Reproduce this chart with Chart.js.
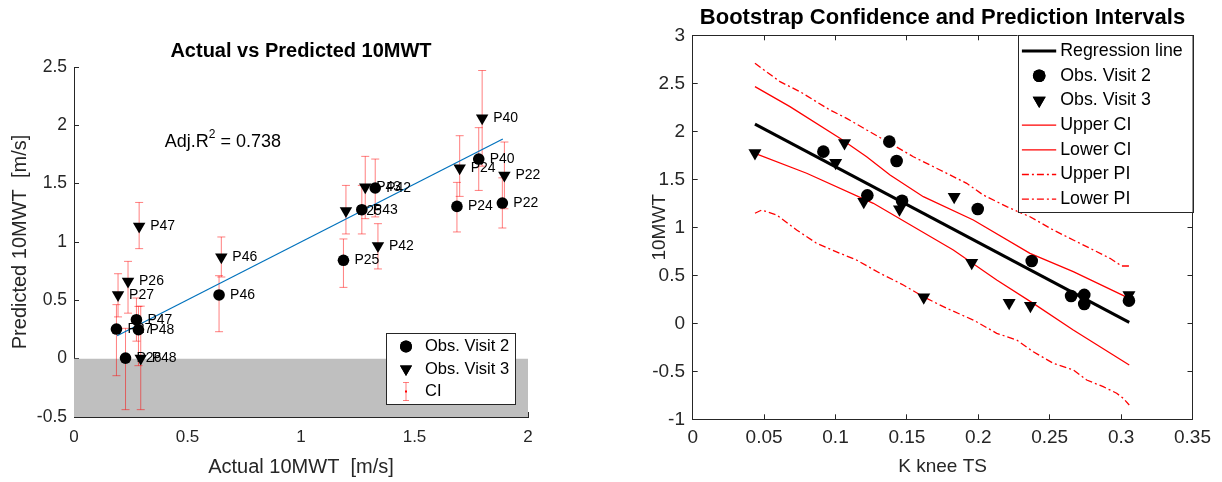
<!DOCTYPE html>
<html>
<head>
<meta charset="utf-8">
<script src="https://cdn.jsdelivr.net/npm/chart.js@4.4.1/dist/chart.umd.min.js"></script>
<style>
  html, body { margin: 0; padding: 0; background: #fff; overflow: hidden; width: 1222px; height: 482px; }
  .box { position: absolute; top: 0; height: 482px; }
  #left { left: 0; width: 602px; }
  #right { left: 640px; width: 605px; }
</style>
</head>
<body>
<div class="box" id="left"><canvas id="actualChart" width="602" height="482"></canvas></div>
<div class="box" id="right"><canvas id="bootChart" width="605" height="482"></canvas></div>
<script>
// ---------- left panel: actual vs predicted ----------
const namesV2 = ['P27', 'P26', 'P47', 'P48', 'P46', 'P25', 'P43', 'P42', 'P24', 'P40', 'P22'];
const actualV2 = [0.187, 0.227, 0.275, 0.284, 0.639, 1.187, 1.268, 1.327, 1.687, 1.783, 1.887];
const predV2 = [0.254, 0.005, 0.334, 0.248, 0.546, 0.843, 1.277, 1.463, 1.305, 1.711, 1.334];
const ciLowV2 = [-0.146, -0.437, 0.15, -0.06, 0.231, 0.611, 1.069, 1.215, 1.086, 1.442, 1.12];
const ciHighV2 = [0.463, 0.26, 0.52, 0.448, 0.711, 1.026, 1.485, 1.711, 1.511, 1.98, 1.55];

const namesV3 = ['P47', 'P26', 'P27', 'P48', 'P46', 'P25', 'P43', 'P42', 'P24', 'P40', 'P22'];
const actualV3 = [0.287, 0.238, 0.194, 0.294, 0.649, 1.198, 1.283, 1.339, 1.699, 1.798, 1.896];
const predV3 = [1.134, 0.663, 0.548, 0.003, 0.871, 1.268, 1.47, 0.968, 1.634, 2.062, 1.571];
const ciLowV3 = [0.943, 0.39, 0.358, -0.437, 0.70, 1.069, 1.20, 0.769, 1.391, 1.65, 1.285];
const ciHighV3 = [1.339, 0.834, 0.728, 0.45, 1.043, 1.485, 1.734, 1.157, 1.911, 2.47, 1.857];

const fitX = [0.19, 1.889];
const fitY = [0.197, 1.883];
const shadeX = [0, 2];
const shadeY = [0, 0];
const xTicksL = [0, 0.5, 1, 1.5, 2];
const yTicksL = [-0.5, 0, 0.5, 1, 1.5, 2, 2.5];

// ---------- right panel: bootstrap intervals ----------
const kneeV2 = [0.0915, 0.1223, 0.1377, 0.1428, 0.1466, 0.1996, 0.2374, 0.2650, 0.2742, 0.2742, 0.3055];
const walkV2 = [1.788, 1.333, 1.892, 1.691, 1.277, 1.19, 0.649, 0.284, 0.296, 0.201, 0.236];
const kneeV3 = [0.0436, 0.1001, 0.1063, 0.1198, 0.1448, 0.1618, 0.1831, 0.1954, 0.2216, 0.2365, 0.3055];
const walkV3 = [1.774, 1.673, 1.878, 1.267, 1.187, 0.272, 1.319, 0.63, 0.214, 0.182, 0.295];

const regX = [0.0436, 0.3057];
const regY = [2.075, 0.01];
const upperCiX = [0.0436, 0.0681, 0.1031, 0.1218, 0.1382, 0.1615, 0.1965, 0.2362, 0.2665, 0.3057];
const upperCiY = [2.465, 2.257, 1.927, 1.735, 1.545, 1.319, 1.076, 0.729, 0.538, 0.26];
const lowerCiX = [0.0436, 0.0798, 0.1265, 0.1825, 0.2129, 0.2385, 0.2665, 0.3057];
const lowerCiY = [1.771, 1.563, 1.25, 0.764, 0.451, 0.208, -0.07, -0.434];
const upperPiX = [0.0436, 0.0611, 0.0751, 0.0961, 0.1078, 0.1218, 0.1382, 0.1545, 0.1732, 0.1919,
  0.2035, 0.2199, 0.2362, 0.2525, 0.2665, 0.2805, 0.2922, 0.3004, 0.3057];
const upperPiY = [2.708, 2.517, 2.413, 2.222, 2.135, 2.014, 1.875, 1.735, 1.597, 1.458,
  1.336, 1.215, 1.11, 0.972, 0.868, 0.764, 0.677, 0.597, 0.597];
const lowerPiX = [0.0436, 0.0483, 0.0588, 0.0728, 0.0868, 0.1031, 0.1148, 0.1312, 0.1475, 0.1615,
  0.1779, 0.1965, 0.2129, 0.2269, 0.2385, 0.2525, 0.2665, 0.2759, 0.2875, 0.2969, 0.3015, 0.3057];
const lowerPiY = [1.146, 1.18, 1.128, 0.972, 0.833, 0.729, 0.659, 0.521, 0.399, 0.277,
  0.156, 0.034, -0.104, -0.174, -0.296, -0.417, -0.486, -0.591, -0.66, -0.729, -0.781, -0.851];
const xTicksR = [0, 0.05, 0.1, 0.15, 0.2, 0.25, 0.3, 0.35];
const yTicksR = [-1, -0.5, 0, 0.5, 1, 1.5, 2, 2.5, 3];

// ---------- helpers ----------
const AXIS = '#262626';
const CI_RED = 'rgba(255,0,0,0.5)';
Chart.defaults.font.family = "'Liberation Sans', Arial, Helvetica, sans-serif";
Chart.defaults.color = AXIS;

const fmt = v => String(Math.round(v * 1000) / 1000);
const pts = (xs, ys) => xs.map((x, i) => ({ x: x, y: ys[i] }));
const fixTicks = list => (s => { s.ticks = list.map(v => ({ value: v })); });

function axis(min, max, list, pos, size, fontSize, pad, title) {
  const horiz = pos === 'top' || pos === 'bottom';
  return {
    type: 'linear', position: pos, min: min, max: max,
    afterBuildTicks: fixTicks(list),
    afterFit: s => { if (horiz) s.height = size; else s.width = size; },
    ticks: { display: !!fontSize, autoSkip: false, maxRotation: 0, callback: fmt,
      font: { size: fontSize || 10 }, color: AXIS, padding: pad || 0 },
    grid: { drawOnChartArea: false, tickLength: -5, color: AXIS },
    border: { color: AXIS, width: 1 },
    title: title || { display: false }
  };
}

// empty spacer axis so the title is centred over the axes box
function spacer(size) {
  return {
    type: 'linear', position: 'right',
    afterFit: s => { s.width = size; },
    ticks: { display: false }, grid: { display: false }, border: { display: false }
  };
}

function drawMark(ctx, kind, x, y, r) {
  ctx.fillStyle = '#000';
  if (kind === 'circle') {
    Chart.helpers.drawPoint(ctx, { pointStyle: 'circle', radius: r, borderWidth: 0 }, x, y);
  } else {
    Chart.helpers.drawPoint(ctx, { pointStyle: 'triangle', radius: r, rotation: 180, borderWidth: 0 }, x, y);
  }
  ctx.fill();
}

// text next to markers (left panel)
function labelPlugin() {
  return {
    id: 'markerLabels',
    afterDatasetsDraw(chart) {
      const { ctx, scales: { x, y } } = chart;
      ctx.save();
      ctx.font = "14px 'Liberation Sans', Arial, sans-serif";
      ctx.fillStyle = '#000';
      ctx.textBaseline = 'middle';
      const put = (xs, ys, names) => names.forEach((n, i) =>
        ctx.fillText(n, x.getPixelForValue(xs[i]) + 11, y.getPixelForValue(ys[i])));
      put(actualV2, predV2, namesV2);
      put(actualV3, predV3, namesV3);
      // Adj. R^2 annotation
      const ax = x.getPixelForValue(0.40), ay = y.getPixelForValue(1.86);
      ctx.font = "18px 'Liberation Sans', Arial, sans-serif";
      ctx.fillText('Adj.R', ax, ay);
      let w = ctx.measureText('Adj.R').width;
      ctx.font = "12px 'Liberation Sans', Arial, sans-serif";
      ctx.fillText('2', ax + w, ay - 7);
      w += ctx.measureText('2').width;
      ctx.font = "18px 'Liberation Sans', Arial, sans-serif";
      ctx.fillText(' = 0.738', ax + w, ay);
      ctx.restore();
    }
  };
}

// boxed legend drawn inside the axes
function legendPlugin(cfg) {
  return {
    id: 'boxLegend',
    afterDraw(chart) {
      const { ctx, chartArea: a } = chart;
      const bx = a.right - cfg.inset - cfg.w;
      const by = cfg.anchor === 'top' ? a.top + cfg.inset : a.bottom - cfg.inset - cfg.h;
      ctx.save();
      ctx.fillStyle = '#fff';
      ctx.fillRect(bx, by, cfg.w, cfg.h);
      ctx.strokeStyle = AXIS;
      ctx.lineWidth = 1;
      ctx.strokeRect(Math.round(bx) + 0.5, Math.round(by) + 0.5, cfg.w, cfg.h);
      ctx.font = cfg.fontSize + "px 'Liberation Sans', Arial, sans-serif";
      ctx.textBaseline = 'middle';
      cfg.items.forEach((it, i) => {
        const cy = by + cfg.first + i * cfg.step;
        const mx = bx + cfg.markX;
        if (it.kind === 'line') {
          ctx.strokeStyle = it.color;
          ctx.lineWidth = it.width;
          ctx.setLineDash(it.dash || []);
          ctx.beginPath();
          ctx.moveTo(bx + cfg.lineFrom, cy);
          ctx.lineTo(bx + cfg.lineTo, cy);
          ctx.stroke();
          ctx.setLineDash([]);
        } else if (it.kind === 'errorbar') {
          ctx.strokeStyle = CI_RED;
          ctx.lineWidth = 1;
          ctx.beginPath();
          ctx.moveTo(mx, cy - 9); ctx.lineTo(mx, cy + 9);
          ctx.moveTo(mx - 3, cy - 9); ctx.lineTo(mx + 3, cy - 9);
          ctx.moveTo(mx - 3, cy + 9); ctx.lineTo(mx + 3, cy + 9);
          ctx.stroke();
          ctx.fillStyle = 'red';
          ctx.fillRect(mx - 1, cy - 1, 2, 2);
        } else {
          drawMark(ctx, it.kind, mx, cy, it.r);
        }
        ctx.fillStyle = '#000';
        ctx.fillText(it.label, bx + cfg.textX, cy);
      });
      ctx.restore();
    }
  };
}

// ---------- left chart ----------
const errorSets = [];
[[actualV2, ciLowV2, ciHighV2], [actualV3, ciLowV3, ciHighV3]].forEach(([xs, lo, hi]) => {
  xs.forEach((xv, i) => errorSets.push({
    type: 'scatter', showLine: true, order: 5,
    data: [{ x: xv, y: lo[i] }, { x: xv, y: hi[i] }],
    borderColor: CI_RED, borderWidth: 1,
    pointStyle: 'line', pointRadius: 4, pointBorderColor: CI_RED, pointBorderWidth: 1
  }));
});

new Chart(document.getElementById('actualChart'), {
  type: 'scatter',
  data: {
    datasets: [
      { data: pts(actualV2, predV2), order: 1, pointStyle: 'circle', pointRadius: 5.8,
        backgroundColor: '#000', borderWidth: 0 },
      { data: pts(actualV3, predV3), order: 1, pointStyle: 'triangle', rotation: 180, pointRadius: 7.2,
        backgroundColor: '#000', borderWidth: 0 },
      { data: pts(fitX, fitY), order: 3, showLine: true, borderColor: '#0072BD', borderWidth: 1.2, pointRadius: 0 },
      ...errorSets,
      { data: pts(shadeX, shadeY), order: 10, showLine: true, borderWidth: 0, pointRadius: 0,
        fill: 'start', backgroundColor: '#bfbfbf' }
    ]
  },
  options: {
    responsive: false, animation: false, events: [],
    layout: { padding: 0 },
    plugins: {
      legend: { display: false }, tooltip: { enabled: false },
      title: { display: true, text: 'Actual vs Predicted 10MWT', color: '#000',
        font: { size: 20, weight: 'bold' }, padding: { top: 39, bottom: 4 } }
    },
    scales: {
      x: axis(0, 2, xTicksL, 'bottom', 65, 17, 14.8,
        { display: true, text: 'Actual 10MWT  [m/s]', font: { size: 20 }, color: AXIS, padding: { top: 0, bottom: 3 } }),
      y: axis(-0.5, 2.5, yTicksL, 'left', 74, 17.5, 12,
        { display: true, text: 'Predicted 10MWT  [m/s]', font: { size: 20 }, color: AXIS, padding: { top: 8, bottom: 0 } }),
      pad: spacer(74)
    }
  },
  plugins: [labelPlugin(), legendPlugin({
    anchor: 'bottom', inset: 13, w: 129, h: 71, first: 13.5, step: 22.5,
    markX: 20, textX: 39, fontSize: 16.5,
    items: [
      { kind: 'circle', r: 6, label: 'Obs. Visit 2' },
      { kind: 'triangle', r: 7, label: 'Obs. Visit 3' },
      { kind: 'errorbar', label: 'CI' }
    ]
  })]
});

// ---------- right chart ----------
const redLine = (xs, ys, dash) => ({
  data: pts(xs, ys), order: 3, showLine: true, borderColor: '#ff0000', borderWidth: 1.3,
  borderDash: dash || [], pointRadius: 0, tension: 0
});
const DASHDOT = [7, 3, 2, 3];

new Chart(document.getElementById('bootChart'), {
  type: 'scatter',
  data: {
    datasets: [
      { data: pts(kneeV2, walkV2), order: 0, pointStyle: 'circle', pointRadius: 6.3,
        backgroundColor: '#000', borderWidth: 0 },
      { data: pts(kneeV3, walkV3), order: 0, pointStyle: 'triangle', rotation: 180, pointRadius: 7.5,
        backgroundColor: '#000', borderWidth: 0 },
      { data: pts(regX, regY), order: 1, showLine: true, borderColor: '#000', borderWidth: 3, pointRadius: 0 },
      redLine(upperCiX, upperCiY),
      redLine(lowerCiX, lowerCiY),
      redLine(upperPiX, upperPiY, DASHDOT),
      redLine(lowerPiX, lowerPiY, DASHDOT)
    ]
  },
  options: {
    responsive: false, animation: false, events: [],
    layout: { padding: 0 },
    plugins: {
      legend: { display: false }, tooltip: { enabled: false },
      title: { display: true, text: 'Bootstrap Confidence and Prediction Intervals', color: '#000',
        font: { size: 22, weight: 'bold' }, padding: { top: 4.8, bottom: 4.1 } }
    },
    scales: {
      x: axis(0, 0.35, xTicksR, 'bottom', 62.7, 19, 12.3,
        { display: true, text: 'K knee TS', font: { size: 19 }, color: AXIS, padding: { top: 0, bottom: 3.6 } }),
      y: axis(-1, 3, yTicksR, 'left', 52.7, 19, 12.7,
        { display: true, text: '10MWT', font: { size: 19 }, color: AXIS, padding: { top: 8.6, bottom: 0 } }),
      x2: axis(0, 0.35, xTicksR, 'top', 0),
      y2: axis(-1, 3, yTicksR, 'right', 52.5)
    }
  },
  plugins: [legendPlugin({
    anchor: 'top', inset: 0, w: 175, h: 177, first: 15.7, step: 24.7,
    markX: 21.7, lineFrom: 4.4, lineTo: 38.7, textX: 42.7, fontSize: 17.8,
    items: [
      { kind: 'line', color: '#000', width: 3, label: 'Regression line' },
      { kind: 'circle', r: 6.3, label: 'Obs. Visit 2' },
      { kind: 'triangle', r: 7.5, label: 'Obs. Visit 3' },
      { kind: 'line', color: '#ff0000', width: 1.3, label: 'Upper CI' },
      { kind: 'line', color: '#ff0000', width: 1.3, label: 'Lower CI' },
      { kind: 'line', color: '#ff0000', width: 1.3, dash: DASHDOT, label: 'Upper PI' },
      { kind: 'line', color: '#ff0000', width: 1.3, dash: DASHDOT, label: 'Lower PI' }
    ]
  })]
});
</script>
</body>
</html>
